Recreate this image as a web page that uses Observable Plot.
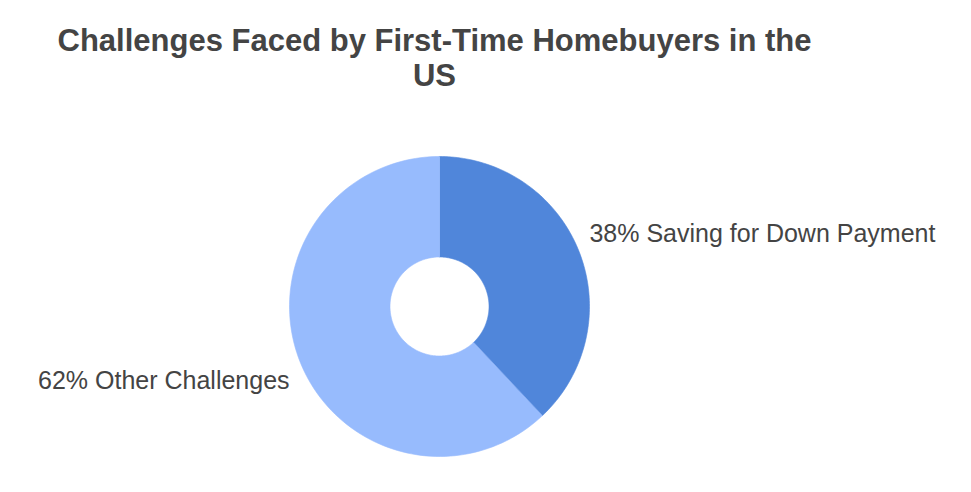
<!DOCTYPE html>
<html>
<head>
<meta charset="utf-8">
<script src="https://cdn.jsdelivr.net/npm/d3@7"></script>
<script src="https://cdn.jsdelivr.net/npm/@observablehq/plot@0.6"></script>
<style>
  html, body { margin: 0; padding: 0; background: #fff; }
  #title {
    width: 971px; box-sizing: border-box; padding: 23px 102px 0 0; height: 93px;
    margin: 0; font-family: "Liberation Sans", Arial, sans-serif; font-weight: bold;
    font-size: 31px; line-height: 35px; color: #444; text-align: center;
  }
</style>
</head>
<body>
<div id="title">Challenges Faced by First-Time Homebuyers in the<br>US</div>
<div id="chart"></div>
<script>
const categories = ["Saving for Down Payment", "Other Challenges"];
const values = [38, 62];
const colors = ["#5086DA", "#97BBFD"];
const labels = ["38% Saving for Down Payment", "62% Other Challenges"];

const W = 971, H = 399;
const cx = 439, cy = 213, R = 150, inner = 0.33;

const pie = d3.pie().sort(null).value((d, i) => values[i])(categories);
const slicePts = [];
pie.forEach((p, i) => {
  const n = 120;
  for (let k = 0; k <= n; k++) {
    const a = p.startAngle + (p.endAngle - p.startAngle) * k / n;
    slicePts.push({cat: categories[i], x: Math.sin(a), y: Math.cos(a)});
  }
  for (let k = n; k >= 0; k--) {
    const a = p.startAngle + (p.endAngle - p.startAngle) * k / n;
    slicePts.push({cat: categories[i], x: inner * Math.sin(a), y: inner * Math.cos(a)});
  }
});
const labelData = pie.map((p, i) => {
  const m = (p.startAngle + p.endAngle) / 2;
  return {text: labels[i], x: 1.075 * Math.sin(m), y: 1.075 * Math.cos(m), right: Math.sin(m) > 0};
});

const chart = Plot.plot({
  width: W, height: H,
  margin: 0,
  x: {domain: [-cx / R, (W - cx) / R], axis: null},
  y: {domain: [-(H - cy) / R, cy / R], axis: null},
  color: {domain: categories, range: colors},
  style: {fontFamily: "'Liberation Sans', Arial, sans-serif", background: "#fff"},
  marks: [
    Plot.line(slicePts, {x: "x", y: "y", z: "cat", fill: "cat", stroke: "cat", strokeWidth: 0.6, curve: "linear-closed"}),
    Plot.text(labelData.filter(d => d.right), {x: "x", y: "y", text: "text",
      textAnchor: "start", fontSize: 25, fill: "#444", dy: -13}),
    Plot.text(labelData.filter(d => !d.right), {x: "x", y: "y", text: "text",
      textAnchor: "end", fontSize: 25, fill: "#444", dy: 15})
  ]
});
document.getElementById("chart").appendChild(chart);
</script>
</body>
</html>
